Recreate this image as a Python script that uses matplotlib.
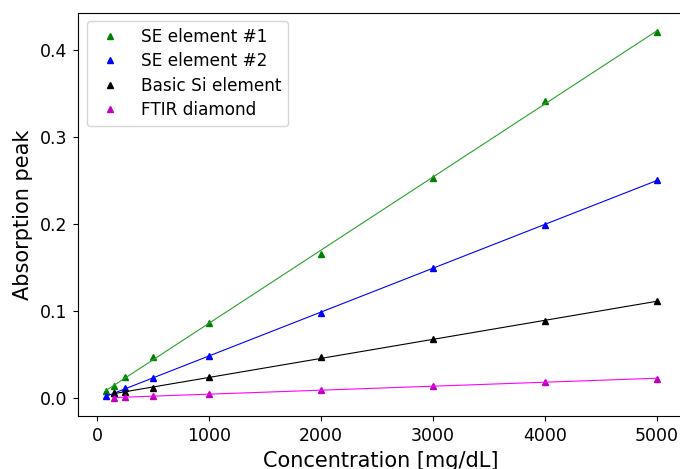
import numpy as np
import matplotlib
matplotlib.use("Agg")
import matplotlib.pyplot as plt

# concentrations [mg/dL]
conc_se1 = [75, 150, 250, 500, 1000, 2000, 3000, 4000, 5000]
conc_se2 = [75, 150, 250, 500, 1000, 2000, 3000, 4000, 5000]
conc_si = [150, 250, 500, 1000, 2000, 3000, 4000, 5000]
conc_ftir = [150, 250, 500, 1000, 2000, 3000, 4000, 5000]

# absorption peaks
peak_se1 = [0.0078, 0.0145, 0.0245, 0.0475, 0.0870, 0.1655, 0.2535, 0.3420, 0.4215]
peak_se2 = [0.0030, 0.0060, 0.0115, 0.0230, 0.0485, 0.0985, 0.1495, 0.1995, 0.2510]
peak_si = [0.0058, 0.0075, 0.0120, 0.0240, 0.0470, 0.0680, 0.0890, 0.1115]
peak_ftir = [0.0007, 0.0012, 0.0023, 0.0050, 0.0095, 0.0140, 0.0188, 0.0226]

series = [
    ("SE element #1", conc_se1, peak_se1, "g", "#2ca02c"),
    ("SE element #2", conc_se2, peak_se2, "b", "#0000ff"),
    ("Basic Si element", conc_si, peak_si, "k", "#000000"),
    ("FTIR diamond", conc_ftir, peak_ftir, "m", "#ff00ff"),
    ]

def main():

    fig = plt.figure(figsize = (6.8, 4.69), dpi = 100)
    ax = fig.add_axes([0.1151, 0.113, 0.891, 0.860])

    for label, x, y, marker_color, line_color in series:
        x = np.array(x, dtype = float)
        y = np.array(y, dtype = float)
        ax.plot(x, y, "^", color = marker_color, markersize = 5, label = label)
        slope, intercept = np.polyfit(x, y, 1)
        xs = np.array([x.min(), x.max()])
        ax.plot(xs, slope*xs + intercept, color = line_color, linewidth = 0.8)

    ax.set_xlabel("Concentration [mg/dL]", fontsize = 15, labelpad = 4)
    ax.set_ylabel("Absorption peak", fontsize = 15, labelpad = 5)
    ax.set_xticks([0, 1000, 2000, 3000, 4000, 5000])
    ax.set_yticks([0.0, 0.1, 0.2, 0.3, 0.4])
    ax.tick_params(labelsize = 12.5, pad = 4.5)
    ax.legend(loc = "upper left", fontsize = 12.2, numpoints = 1,
              labelspacing = 0.38)

    fig.savefig("out.png", dpi = 100)
    plt.close(fig)

if __name__ == "__main__":
    main()
